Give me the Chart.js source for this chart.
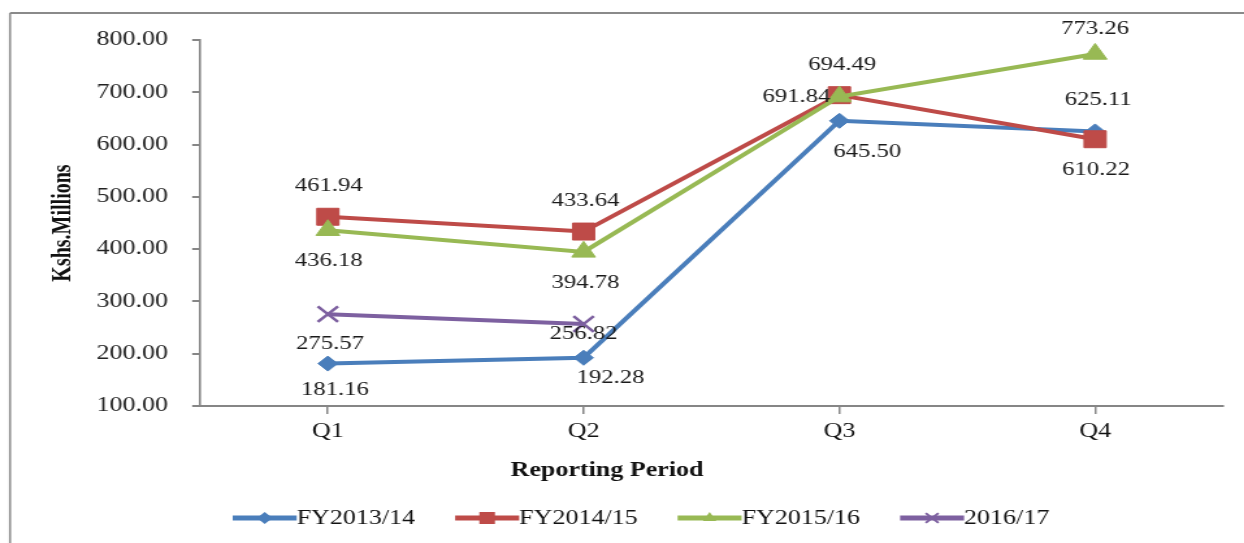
<!DOCTYPE html>
<html>
<head>
<meta charset="utf-8">
<script src="https://cdn.jsdelivr.net/npm/chart.js@4.4.0/dist/chart.umd.min.js"></script>
<style>
  html, body { margin: 0; padding: 0; background: #fff; overflow: hidden; }
  #wrap { position: absolute; left: 0; top: 0; width: 957px; height: 543px; transform: scaleX(1.3); transform-origin: 0 0; }
</style>
</head>
<body>
<div id="wrap"><canvas id="c" width="957" height="543"></canvas></div>
<script>
// data
const quarters    = ['Q1', 'Q2', 'Q3', 'Q4'];
const fy1314      = [181.16, 192.28, 645.50, 625.11];
const fy1415      = [461.94, 433.64, 694.49, 610.22];
const fy1516      = [436.18, 394.78, 691.84, 773.26];
const fy1617      = [275.57, 256.82, null, null];
const seriesNames = ['FY2013/14', 'FY2014/15', 'FY2015/16', '2016/17'];
const yTicks      = [100, 200, 300, 400, 500, 600, 700, 800];

// the source picture is stretched sideways, so the canvas is drawn narrow and scaled
const S = 1.3;
const FONT = '"Liberation Serif", "Times New Roman", serif';
const AXIS = '#868686';
const colors  = ['#4A7EBB', '#BE4B48', '#98B954', '#7D60A0'];
const markers = ['rectRot', 'rect', 'triangle', 'crossRot'];

// label offsets from each point, in screen px
const labelOff = [
  [[7, 26], [27, 20], [28, 31], [3, -31]],
  [[1, -31], [2, -31], [3, -30], [1, 31]],
  [[1, 31], [2, 31], [-43, 0], [0, -25]],
  [[2, 30], [0, 10]]
];

function drawMark(ctx, style, x, y, r, color) {
  ctx.save();
  ctx.fillStyle = color; ctx.strokeStyle = color; ctx.lineWidth = 2;
  ctx.beginPath();
  if (style === 'rectRot') {
    ctx.moveTo(x, y - r); ctx.lineTo(x + r, y); ctx.lineTo(x, y + r); ctx.lineTo(x - r, y); ctx.closePath(); ctx.fill();
  } else if (style === 'rect') {
    ctx.rect(x - r, y - r, 2 * r, 2 * r); ctx.fill();
  } else if (style === 'triangle') {
    ctx.moveTo(x, y - r); ctx.lineTo(x + r * 0.87, y + r / 2); ctx.lineTo(x - r * 0.87, y + r / 2); ctx.closePath(); ctx.fill();
  } else {
    const d = r * 0.7;
    ctx.moveTo(x - d, y - d); ctx.lineTo(x + d, y + d);
    ctx.moveTo(x + d, y - d); ctx.lineTo(x - d, y + d); ctx.stroke();
  }
  ctx.restore();
}

const decor = {
  id: 'decor',
  beforeDraw(chart) {
    const ctx = chart.ctx;
    ctx.save();
    ctx.fillStyle = '#fff';
    ctx.fillRect(0, 0, chart.width, chart.height);
    ctx.strokeStyle = '#8a8a8a';
    ctx.lineWidth = 1.6;
    ctx.beginPath(); ctx.moveTo(10 / S, chart.height); ctx.lineTo(10 / S, 13); ctx.stroke();
    ctx.lineWidth = 2;
    ctx.beginPath(); ctx.moveTo(10 / S, 13); ctx.lineTo(chart.width, 13); ctx.stroke();
    ctx.restore();
  },
  afterDatasetsDraw(chart) {
    const ctx = chart.ctx;
    ctx.save();
    ctx.font = '19px ' + FONT;
    ctx.fillStyle = '#1a1a1a';
    ctx.textAlign = 'center';
    ctx.textBaseline = 'middle';
    chart.data.datasets.forEach((ds, i) => {
      chart.getDatasetMeta(i).data.forEach((pt, j) => {
        const v = ds.data[j];
        if (v == null) return;
        const off = labelOff[i][j];
        ctx.fillText(v.toFixed(2), pt.x + off[0] / S, pt.y + off[1]);
      });
    });
    ctx.restore();
  },
  afterDraw(chart) {
    const ctx = chart.ctx;
    ctx.save();
    ctx.fillStyle = '#111';
    ctx.textAlign = 'center';
    ctx.textBaseline = 'middle';
    ctx.font = 'bold 20px ' + FONT;
    ctx.fillText('Reporting Period', 607 / S, 471);
    ctx.save();
    ctx.translate(63 / S, 223);
    ctx.rotate(-Math.PI / 2);
    ctx.fillText('Kshs.Millions', 0, 0);
    ctx.restore();

    // legend: line + marker, then name
    ctx.font = '20px ' + FONT;
    ctx.textAlign = 'left';
    const lineLen = 64 / S, gap = 40 / S, y = 518;
    const widths = seriesNames.map(n => ctx.measureText(n).width);
    const total = widths.reduce((s, w) => s + w + lineLen, 0) + gap * 3;
    let x = 641 / S - total / 2;
    seriesNames.forEach((n, i) => {
      ctx.strokeStyle = colors[i];
      ctx.lineWidth = 5;
      ctx.beginPath(); ctx.moveTo(x, y); ctx.lineTo(x + lineLen, y); ctx.stroke();
      drawMark(ctx, markers[i], x + lineLen / 2, y, i === 3 ? 7 : 6, colors[i]);
      ctx.fillStyle = '#111';
      ctx.fillText(n, x + lineLen, y + 1);
      x += lineLen + widths[i] + gap;
    });
    ctx.restore();
  }
};

function ds(label, data, i, radius, order) {
  return {
    label, data, order,
    borderColor: colors[i], backgroundColor: colors[i],
    borderWidth: 4, tension: 0,
    pointStyle: markers[i], pointRadius: radius,
    pointBackgroundColor: colors[i], pointBorderColor: colors[i],
    pointBorderWidth: i === 3 ? 2.5 : 1
  };
}

new Chart(document.getElementById('c').getContext('2d'), {
  type: 'line',
  data: {
    labels: quarters,
    datasets: [
      ds(seriesNames[0], fy1314, 0, 7.5, 4),
      ds(seriesNames[1], fy1415, 1, 12, 3),
      ds(seriesNames[2], fy1516, 2, 10.5, 2),
      ds(seriesNames[3], fy1617, 3, 11, 1)
    ]
  },
  options: {
    responsive: false,
    animation: false,
    devicePixelRatio: 1,
    events: [],
    layout: { padding: { left: 0, right: 957 - 1223 / S, top: 40, bottom: 0 } },
    plugins: { legend: { display: false }, tooltip: { enabled: false } },
    scales: {
      x: {
        offset: true,
        grid: { drawOnChartArea: false, tickLength: 8, color: AXIS, lineWidth: 1.5 },
        border: { display: true, color: AXIS, width: 2 },
        ticks: { font: { family: FONT, size: 20 }, color: '#111', padding: 6 },
        afterFit: s => { s.height = 543 - 406; }
      },
      y: {
        min: 100, max: 800,
        afterBuildTicks: s => { s.ticks = yTicks.map(v => ({ value: v })); },
        grid: { drawOnChartArea: false, tickLength: 6, color: AXIS, lineWidth: 2 },
        border: { display: true, color: AXIS, width: 1.6 },
        ticks: { font: { family: FONT, size: 20 }, color: '#222', padding: 18.5, callback: v => v.toFixed(2) },
        afterFit: s => { s.width = 200 / S; }
      }
    }
  },
  plugins: [decor]
});
</script>
</body>
</html>
